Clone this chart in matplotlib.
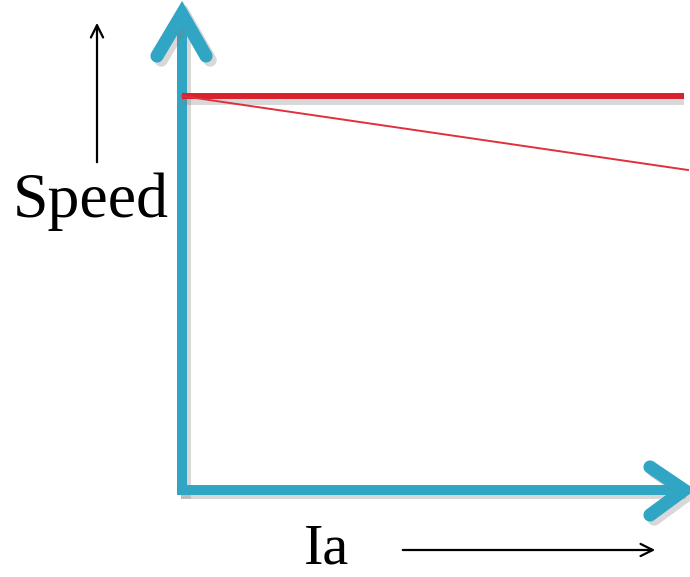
import matplotlib.pyplot as plt
import matplotlib.patheffects as pe

# schematic speed vs armature current (arbitrary units, origin at the axes corner)
ia = [0, 502]
speed_flat = [394, 394]
ia_droop = [0, 506]
speed_droop = [394, 320]

axis_color = '#30a6c4'
red = '#d9222e'

fig = plt.figure(figsize=(6.9, 5.77), dpi=100)
ax = fig.add_axes([0, 0, 1, 1])
ax.set_xlim(-182, 508)
ax.set_ylim(-87, 490)
ax.axis('off')

shadow = [pe.SimpleLineShadow(offset=(3, -3), shadow_color='gray', alpha=0.3), pe.Normal()]

# axes with chevron arrow heads
lw = 7.2
ax.plot([0, 0], [-5, 474], color=axis_color, lw=lw, solid_capstyle='butt', path_effects=shadow)
ax.plot([-5, 500], [0, 0], color=axis_color, lw=lw, solid_capstyle='butt', path_effects=shadow)
ax.plot([-25, 0, 24], [434, 476, 434], color=axis_color, lw=9.5,
        solid_capstyle='round', solid_joinstyle='miter', path_effects=shadow)
ax.plot([468, 502, 468], [23, 0, -25], color=axis_color, lw=9.5,
        solid_capstyle='round', solid_joinstyle='miter', path_effects=shadow)

# speed characteristics
ax.plot(ia, speed_flat, color=red, lw=4.3, solid_capstyle='butt',
        path_effects=[pe.SimpleLineShadow(offset=(0, -4), shadow_color='gray', alpha=0.3), pe.Normal()])
ax.plot(ia_droop, speed_droop, color='#e0303c', lw=1.4)

# labels with small arrows
font = ['Liberation Serif', 'DejaVu Serif']
ax.text(-91, 273, 'Speed', family=font, fontsize=46, ha='center', va='baseline')
ax.text(122, -74, 'Ia', family=font, fontsize=42, ha='left', va='baseline')

ax.annotate('', xy=(-85, 470), xytext=(-85, 325),
            arrowprops=dict(arrowstyle='->', lw=1.6, color='black', mutation_scale=22))
ax.annotate('', xy=(476, -60), xytext=(218, -60),
            arrowprops=dict(arrowstyle='->', lw=1.6, color='black', mutation_scale=22))

fig.savefig('out.png', dpi=100)
